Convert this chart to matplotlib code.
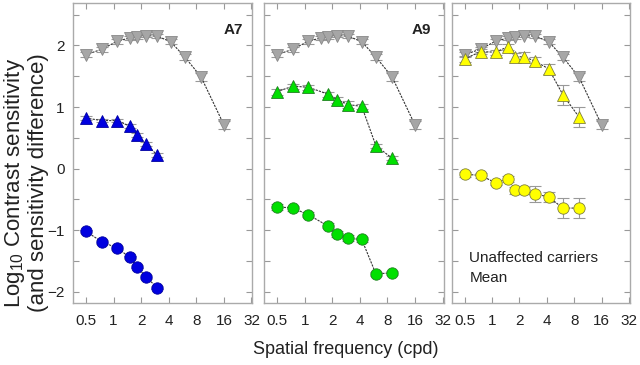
import matplotlib
matplotlib.use("Agg")
import matplotlib.pyplot as plt
from matplotlib.ticker import FixedLocator, NullFormatter, NullLocator

plt.rcParams['font.family'] = ['Liberation Sans', 'DejaVu Sans']
plt.rcParams['mathtext.default'] = 'regular'

# ---- data ----
sf_ctrl = [0.5, 0.75, 1.1, 1.5, 1.8, 2.25, 3, 4.2, 6, 9, 16]
cs_ctrl = [1.85, 1.94, 2.07, 2.12, 2.14, 2.16, 2.15, 2.06, 1.81, 1.49, 0.71]
err_ctrl = [0.04, 0.04, 0.04, 0.03, 0.03, 0.03, 0.03, 0.04, 0.05, 0.06, 0.06]

sf_a7 = [0.5, 0.75, 1.1, 1.5, 1.8, 2.25, 3]
cs_a7 = [0.82, 0.78, 0.78, 0.69, 0.55, 0.40, 0.22]
diff_a7 = [-1.02, -1.19, -1.29, -1.44, -1.59, -1.76, -1.93]

sf_a9 = [0.5, 0.75, 1.1, 1.8, 2.25, 3, 4.2, 6, 9]
cs_a9 = [1.25, 1.34, 1.32, 1.21, 1.12, 1.04, 1.01, 0.37, 0.17]
err_a9 = [0.05, 0.04, 0.04, 0.04, 0.05, 0.05, 0.04, 0.03, 0.03]
diff_a9 = [-0.62, -0.64, -0.75, -0.93, -1.06, -1.13, -1.15, -1.71, -1.69]

sf_car = [0.5, 0.75, 1.1, 1.5, 1.8, 2.25, 3, 4.2, 6, 9]
cs_car = [1.78, 1.90, 1.89, 1.98, 1.81, 1.82, 1.74, 1.62, 1.20, 0.84]
err_car = [0.05, 0.04, 0.04, 0.05, 0.06, 0.07, 0.08, 0.08, 0.16, 0.16]
diff_car = [-0.09, -0.11, -0.23, -0.17, -0.35, -0.35, -0.41, -0.46, -0.64, -0.64]
err_dcar = [0.04, 0.04, 0.04, 0.05, 0.06, 0.06, 0.13, 0.08, 0.16, 0.16]

xticks = [0.5, 1, 2, 4, 8, 16, 32]
xticklabels = ['0.5', '1', '2', '4', '8', '16', '32']
yticks = [-2, -1, 0, 1, 2]

fig = plt.figure(figsize=(6.4, 3.65), dpi=100)
lefts = [0.114, 0.4125, 0.7055]
widths = [0.2805, 0.2805, 0.279]
axes = [fig.add_axes([l, 0.170, w, 0.822]) for l, w in zip(lefts, widths)]

line_kw = dict(color='#333333', lw=0.8, ls=(0, (2, 1)))


def draw(ax, x, y, err, marker, face, edge, ms=8.2):
    ax.errorbar(x, y, yerr=err, fmt='none', ecolor='#999999', elinewidth=0.8,
                capsize=4, capthick=0.8, zorder=2)
    ax.plot(x, y, **line_kw, zorder=3)
    ax.plot(x, y, ls='none', marker=marker, ms=ms, mfc=face, mec=edge,
            mew=0.6, zorder=4)


for ax in axes:
    draw(ax, sf_ctrl, cs_ctrl, err_ctrl, 'v', '#a6a6a6', '#888888')

draw(axes[0], sf_a7, cs_a7, [0.03] * 7, '^', '#0000e0', '#0000a0')
draw(axes[0], sf_a7, diff_a7, [0.03] * 7, 'o', '#0000e0', '#0000a0')
draw(axes[1], sf_a9, cs_a9, err_a9, '^', '#00e000', '#208020')
draw(axes[1], sf_a9, diff_a9, err_a9, 'o', '#00e000', '#208020')
draw(axes[2], sf_car, cs_car, err_car, '^', '#ffff00', '#808040')
draw(axes[2], sf_car, diff_car, err_dcar, 'o', '#ffff00', '#808040')

for i, ax in enumerate(axes):
    ax.set_xscale('log')
    ax.set_xlim(0.36, 32.8)
    ax.set_ylim(-2.18, 2.69)
    ax.xaxis.set_major_locator(FixedLocator(xticks))
    ax.set_xticklabels(xticklabels)
    ax.xaxis.set_minor_locator(NullLocator())
    ax.yaxis.set_major_locator(FixedLocator(yticks))
    ax.yaxis.set_minor_locator(FixedLocator([-1.5, -0.5, 0.5, 1.5, 2.5]))
    ax.tick_params(which='both', direction='in', top=True, right=True,
                   length=4, width=0.8, color='#999999', labelsize=11,
                   labelcolor='#222222', pad=6)
    ax.tick_params(axis='x', pad=8)
    for s in ax.spines.values():
        s.set_color('#aaaaaa')
        s.set_linewidth(1.0)
    if i > 0:
        ax.yaxis.set_major_formatter(NullFormatter())

axes[0].text(0.947, 0.897, 'A7', transform=axes[0].transAxes, ha='right',
             va='baseline', fontsize=11, fontweight='bold', color='#222222')
axes[1].text(0.93, 0.897, 'A9', transform=axes[1].transAxes, ha='right',
             va='baseline', fontsize=11, fontweight='bold', color='#222222')
axes[2].text(0.10, 0.137, 'Unaffected carriers', transform=axes[2].transAxes,
             ha='left', va='baseline', fontsize=11, color='#222222')
axes[2].text(0.10, 0.07, 'Mean', transform=axes[2].transAxes,
             ha='left', va='baseline', fontsize=11, color='#222222')

fig.text(0.040, 0.50, 'Log$_{10}$ Contrast sensitivity\n(and sensitivity difference)',
         rotation=90, ha='center', va='center', fontsize=16, color='#222222',
         linespacing=1.05)
fig.text(0.54, 0.042, 'Spatial frequency (cpd)', ha='center', va='center',
         fontsize=13, color='#222222')

fig.savefig('out.png', dpi=100)
